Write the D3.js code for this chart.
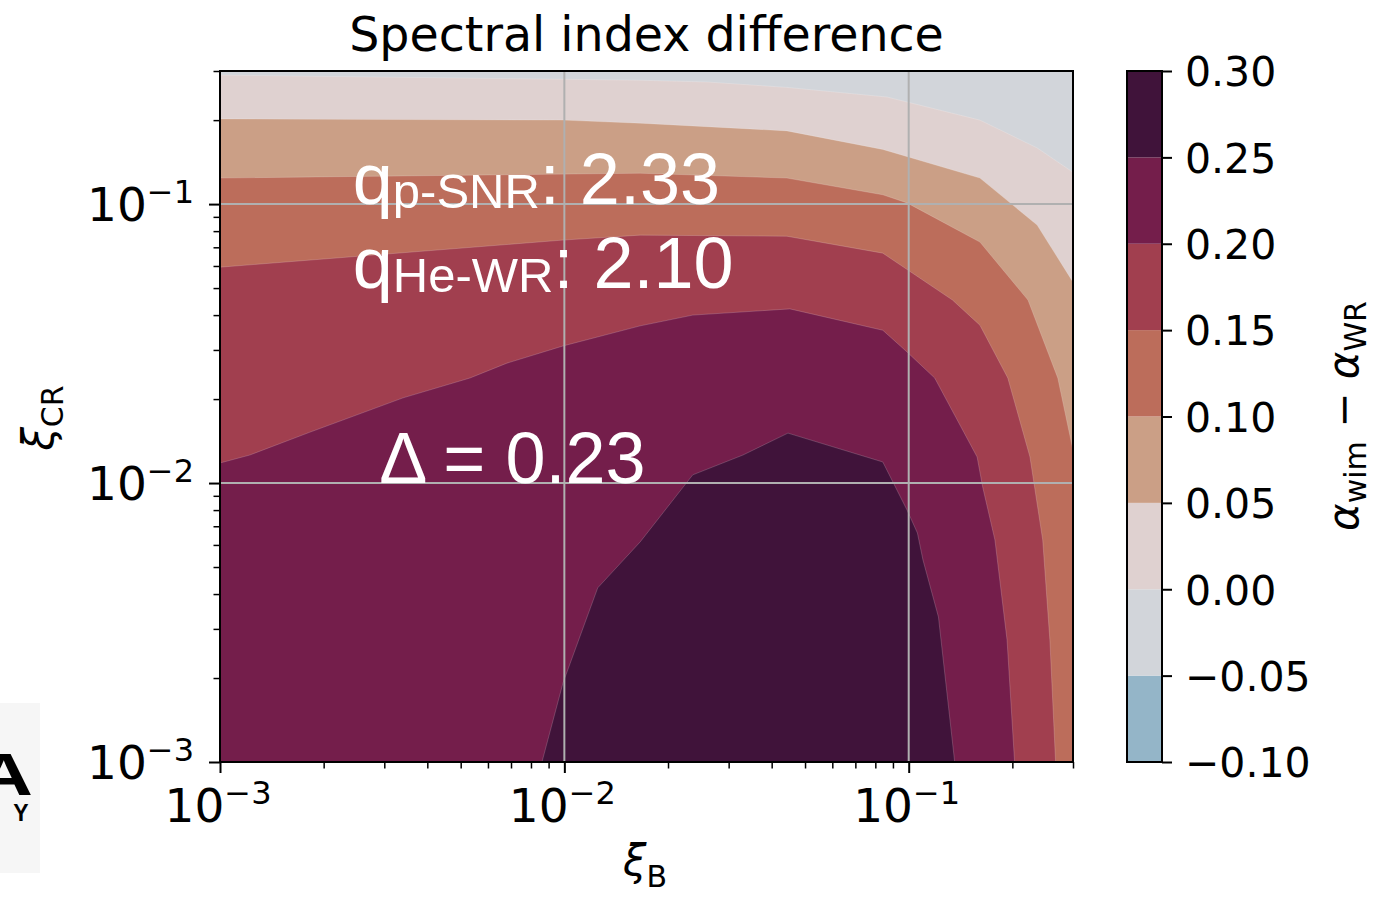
<!DOCTYPE html>
<html>
<head>
<meta charset="utf-8">
<script src="https://cdn.jsdelivr.net/npm/d3@7"></script>
<style>
  html, body { margin: 0; padding: 0; background: #fff; }
  svg { display: block; }
  text { font-family: "DejaVu Sans", sans-serif; }
</style>
</head>
<body>
<svg id="chart" width="1373" height="898"></svg>
<script>
// --- data -------------------------------------------------------------
// contour levels of alpha_wim - alpha_WR and the colour of each band
const levels = [-0.10, -0.05, 0.00, 0.05, 0.10, 0.15, 0.20, 0.25, 0.30];
const bandColors = ["#94b5c8", "#d2d5da", "#dfd1d0", "#cb9f86", "#bc6d5b", "#a13f4f", "#741e4b", "#40133a"];

// iso-lines [xi_B, xi_CR]
const contour000 = [[1e-3, 0.290], [0.0166, 0.278], [0.0259, 0.274], [0.0443, 0.262], [0.0865, 0.242], [0.161, 0.200], [0.236, 0.159], [0.300, 0.130]];
const contour005 = [[1e-3, 0.202], [0.00991, 0.200], [0.0166, 0.195], [0.0443, 0.183], [0.0841, 0.157], [0.161, 0.124], [0.236, 0.0841], [0.300, 0.0525]];
const contour010 = [[1e-3, 0.124], [0.0166, 0.129], [0.0443, 0.124], [0.0841, 0.108], [0.0989, 0.101], [0.161, 0.0731], [0.222, 0.0453], [0.271, 0.0238], [0.300, 0.0131]];
const contour015 = [[1e-3, 0.0594], [0.00991, 0.0743], [0.0166, 0.0774], [0.0443, 0.0767], [0.0841, 0.0667], [0.134, 0.0453], [0.161, 0.0368], [0.194, 0.0238], [0.225, 0.0124], [0.245, 0.00625], [0.257, 0.00274], [0.267, 1e-3]];
const contour020 = [[1e-3, 0.0118], [0.00122, 0.0126], [0.00182, 0.0152], [0.00340, 0.0202], [0.00532, 0.0238], [0.00681, 0.0269], [0.00991, 0.0310], [0.0166, 0.0366], [0.0236, 0.0400], [0.0452, 0.0421], [0.0841, 0.0353], [0.0989, 0.0295], [0.119, 0.0238], [0.158, 0.0124], [0.164, 0.00968], [0.178, 0.00625], [0.193, 0.00274], [0.203, 1e-3]];
const contour025 = [[0.00861, 1e-3], [0.00991, 0.00192], [0.0125, 0.00421], [0.0166, 0.00615], [0.0236, 0.0107], [0.0330, 0.0126], [0.0446, 0.0151], [0.0841, 0.0119], [0.0989, 0.00800], [0.106, 0.00662], [0.110, 0.00530], [0.122, 0.00331], [0.136, 1e-3]];

const filledLevels = [0.00, 0.05, 0.10, 0.15, 0.20, 0.25];
const boundaries = [contour000, contour005, contour010, contour015, contour020, contour025];

const xMajor = [1e-3, 1e-2, 1e-1];
const yMajor = [1e-3, 1e-2, 1e-1];
const majorExp = ["−3", "−2", "−1"];

const noteMain = ["q", "q", "Δ = 0.23"];
const noteSub = ["p-SNR", "He-WR", ""];
const noteTail = [": 2.33", ": 2.10", ""];
const noteAt = [[2.43e-3, 0.1], [2.43e-3, 0.05], [2.9e-3, 0.01]];

// --- layout -----------------------------------------------------------
const svg = d3.select("#chart");
const m = { left: 220, right: 1073, top: 71, bottom: 762 };
const xDomain = [1e-3, 0.3], yDomain = [1e-3, 0.3];

const x = d3.scaleLog().domain(xDomain).range([m.left, m.right]);
const y = d3.scaleLog().domain(yDomain).range([m.bottom, m.top]);
const c = d3.scaleLinear().domain([levels[0], levels[levels.length - 1]]).range([m.bottom, m.top]);

svg.append("defs").append("clipPath").attr("id", "plotclip")
  .append("rect").attr("x", m.left).attr("y", m.top).attr("width", m.right - m.left).attr("height", m.bottom - m.top);

const plot = svg.append("g").attr("clip-path", "url(#plotclip)");

// lowest band present fills the whole area
plot.append("rect")
  .attr("x", m.left).attr("y", m.top).attr("width", m.right - m.left).attr("height", m.bottom - m.top)
  .attr("fill", bandColors[1]);

const line = d3.line().x(d => x(d[0])).y(d => y(d[1]));

function closeRegion(pts) {
  const p = pts.slice();
  if (p[p.length - 1][0] >= xDomain[1]) p.push([xDomain[1], yDomain[0]]);
  if (p[0][0] <= xDomain[0]) p.push([xDomain[0], yDomain[0]]);
  return p;
}

plot.selectAll("path.band")
  .data(boundaries)
  .join("path")
  .attr("class", "band")
  .attr("d", d => line(closeRegion(d)) + "Z")
  .attr("fill", (d, i) => bandColors[levels.indexOf(filledLevels[i])])
  .attr("stroke", "rgba(255,255,255,0.18)")
  .attr("stroke-width", 1);

// grid at the major ticks
const gridX = xMajor.slice(1), gridY = yMajor.slice(1);
plot.selectAll("line.gx").data(gridX).join("line").attr("class", "gx")
  .attr("x1", d => x(d)).attr("x2", d => x(d)).attr("y1", m.top).attr("y2", m.bottom)
  .attr("stroke", "#b0b0b0").attr("stroke-width", 2);
plot.selectAll("line.gy").data(gridY).join("line").attr("class", "gy")
  .attr("y1", d => y(d)).attr("y2", d => y(d)).attr("x1", m.left).attr("x2", m.right)
  .attr("stroke", "#b0b0b0").attr("stroke-width", 2);

// annotations
const notes = svg.append("g").attr("fill", "#fff");
noteMain.forEach((txt, i) => {
  const t = notes.append("text")
    .attr("x", x(noteAt[i][0])).attr("y", y(noteAt[i][1]))
    .attr("font-size", 72)
    .style("font-family", "'Liberation Sans', Arial, sans-serif");
  t.append("tspan").text(txt);
  if (noteSub[i]) {
    t.append("tspan").attr("font-size", 49).attr("dy", 4).text(noteSub[i]);
    t.append("tspan").attr("dy", -4).text(noteTail[i]);
  }
});

// minor tick values of a log axis
function minors(domain) {
  const out = [];
  for (let e = -3; e < 0; e++) {
    for (let k = 2; k <= 9; k++) {
      const v = k * Math.pow(10, e);
      if (v <= domain[1] * 1.0001) out.push(v);
    }
  }
  return out;
}

const axes = svg.append("g");
function styleAxis(g, w) {
  g.select(".domain").remove();
  g.selectAll("line").attr("stroke", "#000").attr("stroke-width", w);
}
axes.append("g").attr("transform", `translate(0,${m.bottom})`)
  .call(d3.axisBottom(x).tickValues(minors(xDomain)).tickSize(6.5).tickFormat(""))
  .call(g => styleAxis(g, 1.5));
axes.append("g").attr("transform", `translate(0,${m.bottom})`)
  .call(d3.axisBottom(x).tickValues(xMajor).tickSize(11).tickFormat(""))
  .call(g => styleAxis(g, 2));
axes.append("g").attr("transform", `translate(${m.left},0)`)
  .call(d3.axisLeft(y).tickValues(minors(yDomain)).tickSize(6.5).tickFormat(""))
  .call(g => styleAxis(g, 1.5));
axes.append("g").attr("transform", `translate(${m.left},0)`)
  .call(d3.axisLeft(y).tickValues(yMajor).tickSize(11).tickFormat(""))
  .call(g => styleAxis(g, 2));

// tick labels 10^-n
xMajor.forEach((v, i) => {
  const t = axes.append("text").attr("x", x(v) - 2).attr("y", 822)
    .attr("text-anchor", "middle").attr("font-size", 47);
  t.append("tspan").text("10");
  t.append("tspan").attr("font-size", 32).attr("dy", -18).text(majorExp[i]);
});
yMajor.forEach((v, i) => {
  const t = axes.append("text").attr("x", 194).attr("y", y(v) + 17)
    .attr("text-anchor", "end").attr("font-size", 47);
  t.append("tspan").text("10");
  t.append("tspan").attr("font-size", 32).attr("dy", -18).text(majorExp[i]);
});

// frame
svg.append("rect")
  .attr("x", m.left).attr("y", m.top).attr("width", m.right - m.left).attr("height", m.bottom - m.top)
  .attr("fill", "none").attr("stroke", "#000").attr("stroke-width", 2);

// title and axis labels
svg.append("text").attr("x", (m.left + m.right) / 2).attr("y", 51)
  .attr("text-anchor", "middle").attr("font-size", 47.5).text("Spectral index difference");

const xl = svg.append("text").attr("x", 645).attr("y", 875)
  .attr("text-anchor", "middle").attr("font-size", 42);
xl.append("tspan").style("font-style", "italic").text("ξ");
xl.append("tspan").attr("font-size", 30).attr("dy", 12).text("B");

const yl = svg.append("text").attr("transform", "translate(53,418) rotate(-90)")
  .attr("text-anchor", "middle").attr("font-size", 42);
yl.append("tspan").style("font-style", "italic").text("ξ");
yl.append("tspan").attr("font-size", 30).attr("dy", 10).text("CR");

// colourbar
const cbX = 1127, cbW = 35;
const cb = svg.append("g");
cb.selectAll("rect.cb").data(bandColors).join("rect").attr("class", "cb")
  .attr("x", cbX).attr("width", cbW)
  .attr("y", (d, i) => c(levels[i + 1]))
  .attr("height", (d, i) => c(levels[i]) - c(levels[i + 1]))
  .attr("fill", d => d);
cb.append("rect").attr("x", cbX).attr("y", m.top).attr("width", cbW).attr("height", m.bottom - m.top)
  .attr("fill", "none").attr("stroke", "#000").attr("stroke-width", 2);
cb.append("g").attr("transform", `translate(${cbX + cbW},0)`)
  .call(d3.axisRight(c).tickValues(levels).tickSize(10).tickPadding(13).tickFormat(d3.format(".2f")))
  .call(g => {
    g.select(".domain").remove();
    g.selectAll("line").attr("stroke", "#000").attr("stroke-width", 2);
    g.selectAll("text").attr("font-size", 41).attr("dy", "0.36em")
      .attr("fill", "#000").style("font-family", "'DejaVu Sans', sans-serif");
  });

const cl = svg.append("text").attr("transform", "translate(1358,416) rotate(-90)")
  .attr("text-anchor", "middle").attr("font-size", 42);
cl.append("tspan").style("font-style", "italic").text("α");
cl.append("tspan").attr("font-size", 30).attr("dy", 8).text("wim");
cl.append("tspan").attr("dy", -8).text(" − ");
cl.append("tspan").style("font-style", "italic").text("α");
cl.append("tspan").attr("font-size", 30).attr("dy", 8).text("WR");

// cut-off neighbour panel at the lower left
const edge = svg.append("g");
edge.append("rect").attr("x", 0).attr("y", 703).attr("width", 40).attr("height", 170).attr("fill", "#f6f6f6");
edge.append("text").attr("transform", "translate(33,795) scale(1.35,1)").attr("text-anchor", "end")
  .attr("font-size", 60).attr("font-weight", "bold")
  .style("font-family", "'Liberation Sans', Arial, sans-serif").text("A");
edge.append("text").attr("x", 21).attr("y", 821).attr("text-anchor", "middle")
  .attr("font-size", 23).attr("font-weight", "bold")
  .style("font-family", "'Liberation Sans', Arial, sans-serif").text("Y");
</script>
</body>
</html>
